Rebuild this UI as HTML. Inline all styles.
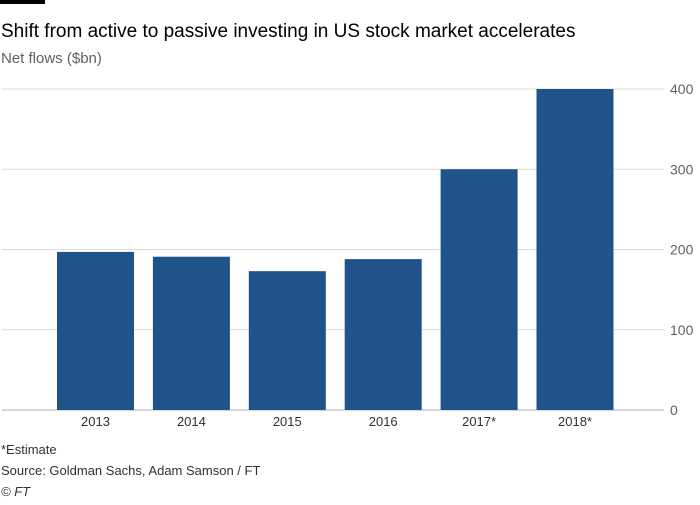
<!DOCTYPE html>
<html><head><meta charset="utf-8"><style>
body{margin:0;background:#fff;width:700px;height:500px;overflow:hidden;font-family:"Liberation Sans",sans-serif}
</style></head><body>
<svg width="700" height="500" xmlns="http://www.w3.org/2000/svg">
<rect x="0" y="0" width="45" height="4" fill="#000"/>
<text x="1" y="37" font-size="19" fill="#000">Shift from active to passive investing in US stock market accelerates</text>
<text x="1" y="63" font-size="15" fill="#66605c">Net flows ($bn)</text>
<g id="grid"></g><g id="bars"></g><g id="xl"></g>
<text x="1" y="454" font-size="13" fill="#33302e">*Estimate</text>
<text x="1" y="475" font-size="13" fill="#33302e">Source: Goldman Sachs, Adam Samson / FT</text>
<text x="1" y="496" font-size="13" font-style="italic" fill="#33302e">© FT</text>
</svg>
<script>
const categories=["2013","2014","2015","2016","2017*","2018*"];
const values=[197,191,173,188,300,400];
const ticks=[0,100,200,300,400];
const NS="http://www.w3.org/2000/svg";
const y=v=>410-v*0.8025;
const x=i=>57+i*95.9;
const bw=77;
function mk(t,a,p){const e=document.createElementNS(NS,t);for(const k in a)e.setAttribute(k,a[k]);document.getElementById(p).appendChild(e);return e;}
ticks.forEach(t=>{
 const l=mk('line',{x1:2,x2:664,y1:y(t),y2:y(t),stroke:t===0?'#b5aca4':'#e0d9d2','stroke-width':1},'grid');
 
 
 const tx=mk('text',{x:670,y:y(t)+5,'font-size':14,fill:'#66605c'},'grid');
 tx.textContent=t;
 
 
});
categories.forEach((c,i)=>{
 const r=mk('rect',{x:x(i),y:y(values[i]),width:bw,height:y(0)-y(values[i]),fill:'#1f538a'},'bars');
 
 
 const t=mk('text',{x:x(i)+bw/2,y:426,'font-size':13,fill:'#33302e','text-anchor':'middle'},'xl');
 t.textContent=c;
 
 
});
</script>
</body></html>
